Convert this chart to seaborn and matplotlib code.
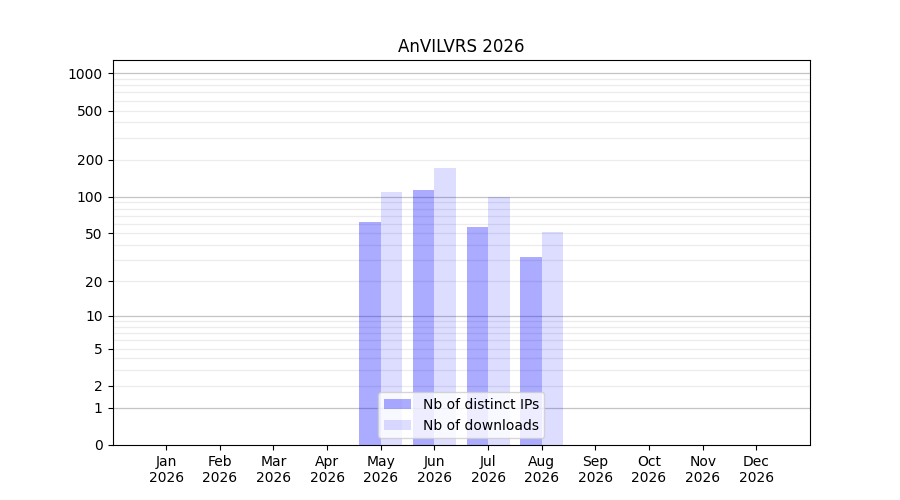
import numpy as np
import pandas as pd
import matplotlib
matplotlib.use("Agg")
import matplotlib.pyplot as plt
import seaborn as sns

month_names = ["Jan", "Feb", "Mar", "Apr", "May", "Jun",
               "Jul", "Aug", "Sep", "Oct", "Nov", "Dec"]
year = "2026"
distinct_ips = [0, 0, 0, 0, 62, 113, 57, 32, 0, 0, 0, 0]
downloads = [0, 0, 0, 0, 109, 170, 99, 51, 0, 0, 0, 0]
series_names = ["Nb of distinct IPs", "Nb of downloads"]
series_alpha = [0.33, 0.135]
ytick_values = [0, 1, 2, 5, 10, 20, 50, 100, 200, 500, 1000]
title = "AnVILVRS 2026"

labels = [f"{m}\n{year}" for m in month_names]
df = pd.DataFrame({
    "month": labels * 2,
    "value": distinct_ips + downloads,
    "series": [series_names[0]] * 12 + [series_names[1]] * 12,
})

fig, ax = plt.subplots(figsize=(9, 5), dpi=100)


def fwd(v):
    return np.log10(np.clip(v, 0, None) + 1)


def inv(v):
    return 10 ** v - 1


sns.barplot(data=df, x="month", y="value", hue="series", order=labels,
            hue_order=series_names, palette=["#0000ff", "#0000ff"],
            saturation=1, width=0.8,
            errorbar=None, legend=False, ax=ax, zorder=2)

for cont, name, a in zip(ax.containers, series_names, series_alpha):
    for p in cont:
        p.set_alpha(a)
        p.set_linewidth(0)
    cont.set_label(name)

ax.set_yscale("function", functions=(fwd, inv))

# grid lines
for dec in [1, 10, 100, 1000]:
    ax.axhline(dec, color="#c4c4c4", lw=0.9, zorder=1)
for dec in [1, 10, 100]:
    for m in range(2, 10):
        ax.axhline(dec * m, color="#ececec", lw=0.9, zorder=1)

ax.set_ylim(0, 1280)
ax.set_yticks(ytick_values)
ax.set_yticklabels([str(v) for v in ytick_values])
ax.yaxis.set_minor_locator(matplotlib.ticker.NullLocator())
ax.set_xlim(-1, 12)
ax.set_xlabel("")
ax.set_ylabel("")

ax.set_title(title)
ax.legend(loc="lower center")
for side in ["top", "right", "left", "bottom"]:
    ax.spines[side].set_visible(True)

fig.savefig("out.png", dpi=100)
